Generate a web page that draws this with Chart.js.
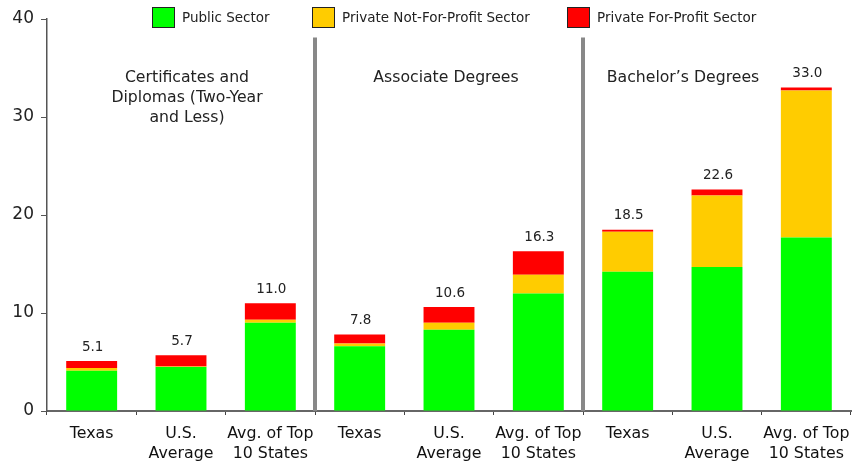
<!DOCTYPE html>
<html>
<head>
<meta charset="utf-8">
<script src="https://cdn.jsdelivr.net/npm/chart.js@4.4.1/dist/chart.umd.min.js"></script>
<style>
  html, body { margin: 0; padding: 0; background: #fff; }
  #wrap { width: 852px; height: 465px; }
</style>
</head>
<body>
<div id="wrap"><canvas id="myChart" width="852" height="465"></canvas></div>
<script>
// --- data ---
const categories = [
  'Texas', ['U.S.', 'Average'], ['Avg. of Top', '10 States'],
  'Texas', ['U.S.', 'Average'], ['Avg. of Top', '10 States'],
  'Texas', ['U.S.', 'Average'], ['Avg. of Top', '10 States']
];
const groupTitles = [
  ['Certificates and', 'Diplomas (Two-Year', 'and Less)'],
  ['Associate Degrees'],
  ['Bachelor\u2019s Degrees']
];
const publicSector    = [4.1, 4.5, 9.0, 6.6, 8.3, 12.0, 14.2, 14.7, 17.7];
const privateNonProfit = [0.3, 0.05, 0.3, 0.3, 0.7, 1.9, 4.1, 7.3, 15.0];
const privateForProfit = [0.7, 1.15, 1.7, 0.9, 1.6, 2.4, 0.2, 0.6, 0.3];
const totals = ['5.1', '5.7', '11.0', '7.8', '10.6', '16.3', '18.5', '22.6', '33.0'];
const yTicks = [0, 10, 20, 30, 40];

const seriesNames = ['Public Sector', 'Private Not-For-Profit Sector', 'Private For-Profit Sector'];
const seriesColors = ['#00ff00', '#ffcc00', '#ff0000'];

const FONT = "'DejaVu Sans', Verdana, sans-serif";

// draws separators, group titles, value labels and legend
const decorPlugin = {
  id: 'decor',
  afterDatasetsDraw(chart) {
    const ctx = chart.ctx;
    const x = chart.scales.x, y = chart.scales.y;
    const step = x.getPixelForValue(1) - x.getPixelForValue(0);
    ctx.save();

    // vertical separators between groups
    ctx.strokeStyle = '#888';
    ctx.lineWidth = 4;
    [2, 5].forEach(i => {
      const px = x.getPixelForValue(i) + step / 2;
      ctx.beginPath();
      ctx.moveTo(px, y.getPixelForValue(38.1));
      ctx.lineTo(px, y.getPixelForValue(0));
      ctx.stroke();
    });

    // group titles (the last one sits left so it clears the 33.0 label)
    ctx.fillStyle = '#222';
    ctx.font = '15.7px ' + FONT;
    ctx.textAlign = 'center';
    ctx.textBaseline = 'middle';
    const titleShift = [6, -3, -34];
    groupTitles.forEach((lines, g) => {
      const cx = x.getPixelForValue(g * 3 + 1) + titleShift[g];
      lines.forEach((ln, k) => ctx.fillText(ln, cx, 78 + k * 20));
    });

    // totals above bars
    ctx.font = '13.5px ' + FONT;
    ctx.textBaseline = 'bottom';
    const top = chart.getDatasetMeta(2);
    totals.forEach((t, i) => {
      const bar = top.data[i];
      ctx.fillText(t, bar.x + 1, bar.y - 7);
    });

    // legend
    ctx.font = '13.5px ' + FONT;
    ctx.textAlign = 'left';
    ctx.textBaseline = 'middle';
    const legendX = [152, 312, 567];
    seriesNames.forEach((name, i) => {
      ctx.fillStyle = seriesColors[i];
      ctx.fillRect(legendX[i], 7, 23, 21);
      ctx.strokeStyle = '#222';
      ctx.lineWidth = 1;
      ctx.strokeRect(legendX[i] + 0.5, 7.5, 22, 20);
      ctx.fillStyle = '#222';
      ctx.fillText(name, legendX[i] + 30, 18);
    });
    ctx.restore();
  }
};

const datasets = [publicSector, privateNonProfit, privateForProfit].map((d, i) => ({
  label: seriesNames[i],
  data: d,
  backgroundColor: seriesColors[i],
  borderWidth: 0,
  barPercentage: 0.57,
  categoryPercentage: 1.0
}));

new Chart(document.getElementById('myChart'), {
  type: 'bar',
  data: { labels: categories, datasets: datasets },
  plugins: [decorPlugin],
  options: {
    responsive: false,
    animation: false,
    layout: { padding: { top: 19, right: 1, left: 0, bottom: 0 } },
    plugins: { legend: { display: false }, tooltip: { enabled: false } },
    scales: {
      x: {
        stacked: true,
        // fixed height, and no extra room for the wide last label
        afterFit: s => { s.height = 54; s.paddingLeft = 0; s.paddingRight = 0; },
        border: { display: true, color: '#666', width: 2 },
        grid: { display: true, offset: true, drawOnChartArea: false, drawTicks: true, tickLength: 4, color: '#444' },
        ticks: { color: '#111', font: { family: FONT, size: 15.8, lineHeight: 1.27 }, padding: 9, maxRotation: 0 }
      },
      y: {
        stacked: true,
        min: 0,
        max: 40,
        afterFit: s => { s.width = 47; },
        afterBuildTicks: s => { s.ticks = yTicks.map(v => ({ value: v })); },
        border: { display: true, color: '#555', width: 1.5 },
        grid: { display: true, drawOnChartArea: false, drawTicks: true, tickLength: 6, color: '#555' },
        ticks: { color: '#222', font: { family: FONT, size: 17 }, padding: 7 }
      }
    }
  }
});
</script>
</body>
</html>
